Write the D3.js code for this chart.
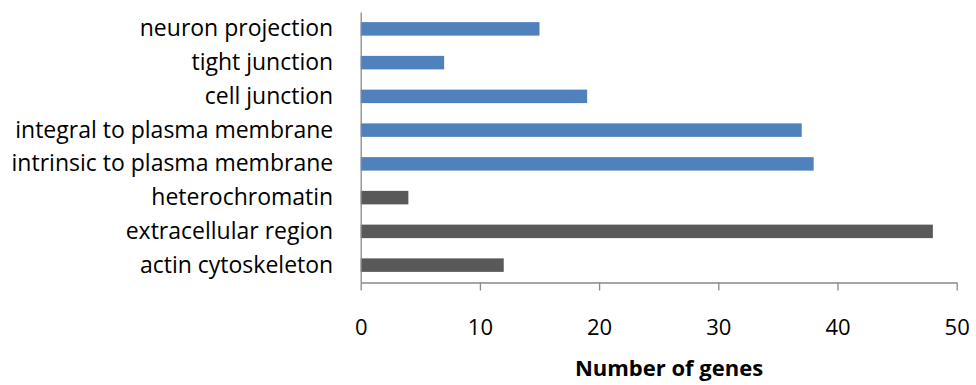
<!DOCTYPE html>
<html><head><meta charset="utf-8">
<script src="https://cdn.jsdelivr.net/npm/d3@7"></script>
<style>body{margin:0;background:#fff}svg{display:block}</style>
</head><body>
<svg id="c" width="976" height="385"></svg>
<script>
const categories = ["neuron projection","tight junction","cell junction","integral to plasma membrane","intrinsic to plasma membrane","heterochromatin","extracellular region","actin cytoskeleton"];
const values = [15, 7, 19, 37, 38, 4, 48, 12];
const groups = ["blue","blue","blue","blue","blue","gray","gray","gray"];
const xTicks = [0, 10, 20, 30, 40, 50];
const colors = {blue:"#4F81BD", gray:"#595959"};
const font = "'Open Sans', sans-serif";

const svg = d3.select("#c");
const x = d3.scaleLinear().domain([0,50]).range([360.7, 956.7]);
const y = d3.scaleBand().domain(categories).range([12, 282]).paddingInner(0.6).paddingOuter(0.3);

svg.append("g").selectAll("rect").data(categories).join("rect")
  .attr("x", x(0)).attr("y", d => y(d))
  .attr("width", (d,i) => x(values[i]) - x(0))
  .attr("height", y.bandwidth())
  .attr("fill", (d,i) => colors[groups[i]]);

const xa = svg.append("g").attr("transform","translate(0,282.5)")
  .call(d3.axisBottom(x).tickValues(xTicks).tickSize(8).tickPadding(28.8).tickSizeOuter(0));
xa.select(".domain").attr("stroke","#888").attr("stroke-width",1.3);
xa.selectAll(".tick line").attr("stroke","#888").attr("stroke-width",1.3);
xa.selectAll("text").attr("font-family",font).attr("font-size",22).attr("fill","#000");

const ya = svg.append("g").attr("transform","translate(360.7,0)")
  .call(d3.axisLeft(y).tickSize(0).tickPadding(27.5));
ya.select(".domain").attr("stroke","#888").attr("stroke-width",1.3);
ya.selectAll("text").attr("font-family",font).attr("font-size",23).attr("fill","#000");

svg.append("text").attr("x",669).attr("y",376).attr("text-anchor","middle")
  .attr("font-family",font).attr("font-weight","bold").attr("font-size",22).text("Number of genes");
</script>
</body></html>
